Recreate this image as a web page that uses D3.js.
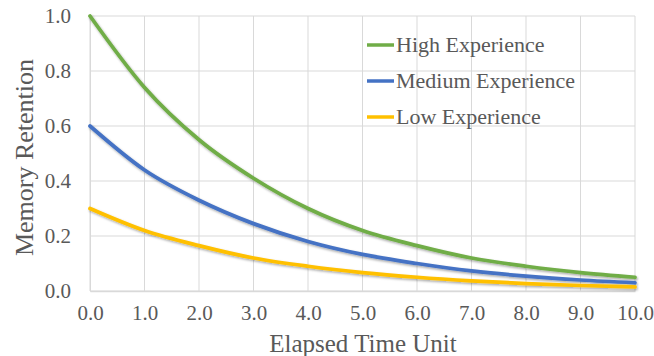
<!DOCTYPE html>
<html>
<head>
<meta charset="utf-8">
<script src="https://cdn.jsdelivr.net/npm/d3@7"></script>
<style>
  html, body { margin: 0; padding: 0; background: #fff; }
  svg { display: block; }
</style>
</head>
<body>
<svg id="chart" width="654" height="356"></svg>
<script>
// Elapsed time units (x) and retention for each experience level
const timeUnits = [0, 1, 2, 3, 4, 5, 6, 7, 8, 9, 10];
const highExperience   = [1.00, 0.74, 0.55, 0.41, 0.30, 0.22, 0.165, 0.12, 0.09, 0.067, 0.05];
const mediumExperience = [0.60, 0.44, 0.33, 0.245, 0.18, 0.133, 0.10, 0.073, 0.054, 0.040, 0.030];
const lowExperience    = [0.30, 0.22, 0.165, 0.12, 0.09, 0.067, 0.05, 0.037, 0.027, 0.020, 0.015];
const seriesNames  = ["High Experience", "Medium Experience", "Low Experience"];
const seriesColors = ["#70ad47", "#4472c4", "#ffc000"];
const xTickValues = [0, 1, 2, 3, 4, 5, 6, 7, 8, 9, 10];
const yTickValues = [0, 0.2, 0.4, 0.6, 0.8, 1.0];

const FONT = "'Liberation Serif', 'Times New Roman', Times, serif";
const INK = "#595959";

const series = [highExperience, mediumExperience, lowExperience].map((vals, i) => ({
  name: seriesNames[i],
  color: seriesColors[i],
  points: vals.map((v, j) => ({ t: timeUnits[j], v }))
}));

const svg = d3.select("#chart");
const plotLeft = 90, plotRight = 635, plotTop = 16, plotBottom = 291;

const x = d3.scaleLinear().domain([0, 10]).range([plotLeft, plotRight]);
const y = d3.scaleLinear().domain([0, 1]).range([plotBottom, plotTop]);

// drop shadow for the lines
const defs = svg.append("defs");
const f = defs.append("filter").attr("id", "shadow")
  .attr("x", "-5%").attr("y", "-5%").attr("width", "110%").attr("height", "120%");
f.append("feDropShadow").attr("dx", 1).attr("dy", 1.5).attr("stdDeviation", 1.2)
  .attr("flood-color", "#000").attr("flood-opacity", 0.35);

// gridlines
const grid = svg.append("g");
grid.selectAll("line.h").data(yTickValues).join("line").attr("class", "h")
  .attr("x1", plotLeft).attr("x2", plotRight)
  .attr("y1", d => y(d)).attr("y2", d => y(d))
  .attr("stroke", "#d9d9d9").attr("stroke-width", 1);
grid.selectAll("line.v").data(xTickValues).join("line").attr("class", "v")
  .attr("y1", plotTop).attr("y2", plotBottom)
  .attr("x1", d => x(d)).attr("x2", d => x(d))
  .attr("stroke", "#d9d9d9").attr("stroke-width", 1);

// axes
const xAxis = svg.append("g").attr("transform", `translate(0,${plotBottom})`)
  .call(d3.axisBottom(x).tickValues(xTickValues).tickFormat(d3.format(".1f")).tickSize(0).tickPadding(14));
xAxis.attr("font-family", null).attr("font-size", null);
xAxis.select(".domain").attr("stroke", "#d9d9d9").attr("stroke-width", 1.5);
xAxis.selectAll("text").style("font-family", FONT).style("font-size", "21px").style("fill", INK);

const yAxis = svg.append("g").attr("transform", `translate(${plotLeft},0)`)
  .call(d3.axisLeft(y).tickValues(yTickValues).tickFormat(d3.format(".1f")).tickSize(0).tickPadding(19));
yAxis.attr("font-family", null).attr("font-size", null);
yAxis.select(".domain").attr("stroke", "#d9d9d9").attr("stroke-width", 1);
yAxis.selectAll("text").style("font-family", FONT).style("font-size", "21px").style("fill", INK);

// axis titles
svg.append("text").attr("x", 363).attr("y", 352)
  .attr("text-anchor", "middle")
  .style("font-family", FONT).style("font-size", "25px").style("fill", INK)
  .text("Elapsed Time Unit");
svg.append("text").attr("transform", "translate(33,157.5) rotate(-90)")
  .attr("text-anchor", "middle")
  .style("font-family", FONT).style("font-size", "26px").style("fill", INK)
  .text("Memory Retention");

// lines
const line = d3.line().x(d => x(d.t)).y(d => y(d.v)).curve(d3.curveMonotoneX);
svg.append("g").attr("filter", "url(#shadow)")
  .selectAll("path").data(series).join("path")
  .attr("d", d => line(d.points))
  .attr("fill", "none").attr("stroke", d => d.color)
  .attr("stroke-width", 3.75).attr("stroke-linejoin", "round").attr("stroke-linecap", "round");

// legend
const legend = svg.append("g");
const rows = legend.selectAll("g").data(series).join("g")
  .attr("transform", (d, i) => `translate(367,${45 + i * 36})`);
rows.append("line").attr("x1", 0).attr("x2", 27).attr("y1", 0).attr("y2", 0)
  .attr("stroke", d => d.color).attr("stroke-width", 3.5);
rows.append("text").attr("x", 29).attr("y", 7)
  .style("font-family", FONT).style("font-size", "22px").style("fill", INK)
  .text(d => d.name);
</script>
</body>
</html>
